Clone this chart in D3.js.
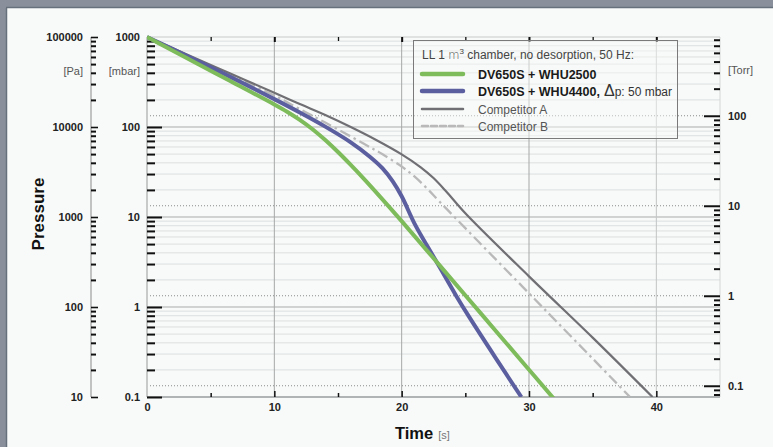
<!DOCTYPE html>
<html>
<head>
<meta charset="utf-8">
<script src="https://cdn.jsdelivr.net/npm/d3@7/dist/d3.min.js"></script>
<style>
  html, body { margin: 0; padding: 0; background: #8a909b; }
  svg { display: block; }
  text { font-family: "Liberation Sans", Arial, Helvetica, sans-serif; }
</style>
</head>
<body>
<svg id="chart" width="773" height="447"></svg>
<script>
// ---------- DATA (time in s, pressure in mbar) ----------
const greenTime = [0, 3, 6.5, 10, 11, 12, 13, 14, 15, 16, 17, 18, 20, 23, 26.4, 29.8, 32];
const greenP    = [1000, 596, 326, 178, 148, 120, 94.4, 71.6, 52.7, 37.9, 26.9, 18.8, 9.0, 2.88, 0.791, 0.217, 0.094];

const blueTime = [0, 3, 6.5, 10, 12, 14, 16, 17.5, 18.5, 19.3, 20, 21, 22, 23, 24.3, 25.3, 27.4, 29.4];
const blueP    = [1000, 631, 363, 204, 145, 101, 67.6, 46.8, 34.7, 24.9, 17.0, 8.51, 4.79, 2.75, 1.32, 0.776, 0.269, 0.1];

const compATime = [0, 3, 6.5, 10, 12, 14, 16, 18, 20, 21.5, 22.5, 23.5, 25, 30, 35, 39.7];
const compAP    = [1000, 652, 395, 240, 180, 136, 100, 71.8, 49.7, 35.7, 27.1, 19.2, 11.0, 2.19, 0.457, 0.1];

const compBTime = [0, 3, 6.5, 10, 12, 14, 17, 18.5, 20, 21, 22, 23, 26.1, 30, 32.1, 35, 37.9];
const compBP    = [1000, 638, 378, 224, 158, 112, 65.5, 49.7, 36.4, 28.2, 20.7, 14.7, 5.2, 1.42, 0.703, 0.267, 0.101];

const seriesNames = ["DV650S + WHU2500", "DV650S + WHU4400,", "Competitor A", "Competitor B"];

const xTicksMajor = [0, 10, 20, 30, 40];
const xTicksMinor = [5, 15, 25, 35];
const mbarDecades = [1000, 100, 10, 1, 0.1];
const paDecades   = [100000, 10000, 1000, 100, 10];
const torrDecades = [100, 10, 1, 0.1];

// ---------- LAYOUT ----------
const svg = d3.select("#chart");
const W = 773, H = 447;
const L = 147, R = 720, T = 37, B = 397;
const MBAR_PER_TORR = 1.33322;

const x = d3.scaleLinear().domain([0, 45]).range([L, R]);
const y = d3.scaleLog().domain([0.1, 1000]).range([B, T]);
const yPa = d3.scaleLog().domain([10, 100000]).range([B, T]);
const yTorr = d3.scaleLog().domain([0.1 / MBAR_PER_TORR, 1000 / MBAR_PER_TORR]).range([B, T]);

function minorsOf(decades, lo, hi) {
  const out = [];
  decades.forEach(d => { for (let k = 2; k <= 9; k++) { const v = d * k; if (v > lo * 0.999 && v < hi * 1.001) out.push(v); } });
  return out;
}
const mbarMinor = minorsOf([0.1, 1, 10, 100], 0.1, 1000);
const paMinor = minorsOf([10, 100, 1000, 10000], 10, 100000);
const torrMinor = minorsOf([0.01, 0.1, 1, 10, 100], 0.1 / MBAR_PER_TORR, 1000 / MBAR_PER_TORR);

// ---------- BACKGROUND ----------
svg.append("rect").attr("x", 0).attr("y", 0).attr("width", W).attr("height", H).attr("fill", "#8a909b");
svg.append("rect").attr("x", 7).attr("y", 8).attr("width", W - 7).attr("height", H - 8).attr("fill", "#f8faf9");
svg.append("line").attr("x1", 6.5).attr("x2", 6.5).attr("y1", 8).attr("y2", H).attr("stroke", "#66707d").attr("stroke-width", 1.5);
svg.append("line").attr("x1", 6).attr("x2", W).attr("y1", 7.5).attr("y2", 7.5).attr("stroke", "#66707d").attr("stroke-width", 1.5);

// ---------- GRID ----------
const grid = svg.append("g");
grid.selectAll(".hmin").data(mbarMinor).join("line")
  .attr("x1", L).attr("x2", R).attr("y1", d => y(d)).attr("y2", d => y(d))
  .attr("stroke", "#dcdfdf").attr("stroke-width", 1);
grid.selectAll(".hmaj").data([100, 10, 1]).join("line")
  .attr("x1", L).attr("x2", R).attr("y1", d => y(d)).attr("y2", d => y(d))
  .attr("stroke", "#a9abab").attr("stroke-width", 1);
grid.selectAll(".vmaj").data([10, 20, 30, 40]).join("line")
  .attr("x1", d => x(d)).attr("x2", d => x(d)).attr("y1", T).attr("y2", B)
  .attr("stroke", d => d === 40 ? "#c2c4c4" : "#a6a8a8").attr("stroke-width", 1);
grid.selectAll(".torr").data(torrDecades).join("line")
  .attr("x1", L).attr("x2", R - 16).attr("y1", d => yTorr(d)).attr("y2", d => yTorr(d))
  .attr("stroke", "#8a8a8a").attr("stroke-width", 1).attr("stroke-dasharray", "1,2");

// plot frame
svg.append("line").attr("x1", L).attr("x2", R).attr("y1", T).attr("y2", T).attr("stroke", "#c8caca").attr("stroke-width", 1);
svg.append("line").attr("x1", R).attr("x2", R).attr("y1", T).attr("y2", B).attr("stroke", "#d4d6d6").attr("stroke-width", 1);
svg.append("line").attr("x1", L).attr("x2", L).attr("y1", T).attr("y2", B).attr("stroke", "#c8caca").attr("stroke-width", 2);
svg.append("line").attr("x1", L).attr("x2", R).attr("y1", B).attr("y2", B).attr("stroke", "#9a9c9c").attr("stroke-width", 1.5);

// ---------- AXES ----------
function styleTicks(g, w) {
  g.select(".domain").remove();
  g.selectAll(".tick line").attr("stroke", "#111").attr("stroke-width", w);
}
function styleLabels(g, size, weight, color) {
  g.select(".domain").remove();
  g.selectAll(".tick line").remove();
  g.selectAll(".tick text").attr("font-size", size).attr("font-weight", weight).attr("fill", color)
    .attr("font-family", "'Liberation Sans', Arial, sans-serif");
}

// X axis (bottom)
svg.append("g").attr("transform", `translate(0,${B})`)
  .call(d3.axisTop(x).tickValues(xTicksMinor).tickSize(4).tickFormat(""))
  .call(g => styleTicks(g, 1.5));
svg.append("g").attr("transform", `translate(0,${B})`)
  .call(d3.axisTop(x).tickValues([10, 20, 30, 40]).tickSize(6).tickFormat(""))
  .call(g => styleTicks(g, 1.5));
svg.append("g").attr("transform", `translate(0,${B})`)
  .call(d3.axisBottom(x).tickValues(xTicksMajor).tickSize(0).tickPadding(6).tickFormat(d3.format("d")))
  .call(g => styleLabels(g, 11, 600, "#222"));
// X axis (top ticks)
svg.append("g").attr("transform", `translate(0,${T})`)
  .call(d3.axisBottom(x).tickValues(xTicksMinor).tickSize(4).tickFormat(""))
  .call(g => styleTicks(g, 1.3));
svg.append("g").attr("transform", `translate(0,${T})`)
  .call(d3.axisBottom(x).tickValues([10, 20, 30, 40]).tickSize(5).tickFormat(""))
  .call(g => styleTicks(g, 2));

// mbar axis
svg.append("g").attr("transform", `translate(${L},0)`)
  .call(d3.axisRight(y).tickValues(mbarMinor).tickSize(8).tickFormat(""))
  .call(g => styleTicks(g, 2));
svg.append("g").attr("transform", `translate(${L},0)`)
  .call(d3.axisRight(y).tickValues([100, 10, 1, 0.1]).tickSize(15).tickFormat(""))
  .call(g => styleTicks(g, 2));
svg.append("g").attr("transform", `translate(${L},0)`)
  .call(d3.axisLeft(y).tickValues(mbarDecades).tickSize(0).tickPadding(7).tickFormat(d => d < 1 ? "0.1" : d3.format("d")(d)))
  .call(g => styleLabels(g, 11, 600, "#222"));

// Pa axis
const PAX = 91;
svg.append("line").attr("x1", PAX).attr("x2", PAX).attr("y1", T).attr("y2", B).attr("stroke", "#8a8a8a").attr("stroke-width", 1);
svg.append("g").attr("transform", `translate(${PAX},0)`)
  .call(d3.axisRight(yPa).tickValues(paMinor).tickSize(5).tickFormat(""))
  .call(g => styleTicks(g, 2));
svg.append("g").attr("transform", `translate(${PAX},0)`)
  .call(d3.axisRight(yPa).tickValues(paDecades).tickSize(7).tickFormat(""))
  .call(g => styleTicks(g, 1.6));
svg.append("g").attr("transform", `translate(${PAX},0)`)
  .call(d3.axisLeft(yPa).tickValues(paDecades).tickSize(0).tickPadding(8).tickFormat(d3.format("d")))
  .call(g => styleLabels(g, 11, 600, "#222"));

// Torr axis
svg.append("g").attr("transform", `translate(${R},0)`)
  .call(d3.axisLeft(yTorr).tickValues(torrMinor).tickSize(6).tickFormat(""))
  .call(g => styleTicks(g, 2));
svg.append("g").attr("transform", `translate(${R},0)`)
  .call(d3.axisLeft(yTorr).tickValues(torrDecades).tickSize(16).tickFormat(""))
  .call(g => styleTicks(g, 2));
svg.append("g").attr("transform", `translate(${R},0)`)
  .call(d3.axisRight(yTorr).tickValues(torrDecades).tickSize(0).tickPadding(8).tickFormat(d => d < 1 ? "0.1" : d3.format("d")(d)))
  .call(g => styleLabels(g, 11, 600, "#222"));

// unit labels
const unitY = 75;
svg.append("text").attr("x", 83).attr("y", unitY).attr("text-anchor", "end").attr("font-size", 11).attr("fill", "#555").text("[Pa]");
svg.append("text").attr("x", 140).attr("y", unitY).attr("text-anchor", "end").attr("font-size", 11).attr("fill", "#555").text("[mbar]");
svg.append("text").attr("x", 728).attr("y", unitY - 1).attr("text-anchor", "start").attr("font-size", 11).attr("fill", "#555").text("[Torr]");

// axis titles
svg.append("text").attr("transform", "translate(44,214) rotate(-90)").attr("text-anchor", "middle")
  .attr("font-size", 17).attr("font-weight", "bold").attr("fill", "#111").text("Pressure");
const tt = svg.append("text").attr("x", 395).attr("y", 439).attr("font-size", 16.5).attr("font-weight", "bold").attr("fill", "#111");
tt.append("tspan").text("Time");
tt.append("tspan").attr("font-size", 11).attr("font-weight", "normal").attr("fill", "#777").attr("dx", 5).text("[s]");

// ---------- CURVES ----------
const line = d3.line().x(d => x(d[0])).y(d => y(d[1])).curve(d3.curveCatmullRom.alpha(0.5));
const zip = (a, b) => a.map((v, i) => [v, b[i]]);
svg.append("clipPath").attr("id", "clip").append("rect")
  .attr("x", L).attr("y", T - 2).attr("width", R - L).attr("height", B - T + 2);
const curves = svg.append("g").attr("clip-path", "url(#clip)");

curves.append("path").datum(zip(compBTime, compBP)).attr("d", line)
  .attr("fill", "none").attr("stroke", "#b9b9b9").attr("stroke-width", 2.3)
  .attr("stroke-dasharray", "11,4,2.5,4");
curves.append("path").datum(zip(compATime, compAP)).attr("d", line)
  .attr("fill", "none").attr("stroke", "#707074").attr("stroke-width", 2.2);
curves.append("path").datum(zip(blueTime, blueP)).attr("d", line)
  .attr("fill", "none").attr("stroke", "#5c5f9f").attr("stroke-width", 4);
curves.append("path").datum(zip(greenTime, greenP)).attr("d", line)
  .attr("fill", "none").attr("stroke", "#7dbb5b").attr("stroke-width", 4);

// ---------- LEGEND ----------
const lg = svg.append("g");
lg.append("rect").attr("x", 413.5).attr("y", 40.5).attr("width", 264).attr("height", 98)
  .attr("fill", "rgba(248,250,249,0.45)").attr("stroke", "#7a7a7a").attr("stroke-width", 1);
const t1 = lg.append("text").attr("x", 422).attr("y", 59).attr("font-size", 12).attr("fill", "#444");
t1.append("tspan").text("LL 1 ");
t1.append("tspan").attr("font-family", "'DejaVu Sans', sans-serif").attr("font-size", 11.5).attr("font-weight", 300).text("m");
t1.append("tspan").attr("font-size", 8).attr("dy", -5).text("3");
t1.append("tspan").attr("dy", 5).text(" chamber, no desorption, 50 Hz:");

const legendItems = [
  { name: seriesNames[0], color: "#7dbb5b", w: 4.5, dash: null, y: 74, bold: true },
  { name: seriesNames[1], color: "#5c5f9f", w: 4.5, dash: null, y: 91, bold: true },
  { name: seriesNames[2], color: "#707074", w: 2.5, dash: null, y: 109, bold: false },
  { name: seriesNames[3], color: "#b9b9b9", w: 2.5, dash: "6,3", y: 126, bold: false }
];
legendItems.forEach((it, i) => {
  lg.append("line").attr("x1", 422).attr("x2", 463).attr("y1", it.y).attr("y2", it.y)
    .attr("stroke", it.color).attr("stroke-width", it.w).attr("stroke-linecap", "round")
    .attr("stroke-dasharray", it.dash);
  const tx = lg.append("text").attr("x", 478).attr("y", it.y + 4.5)
    .attr("font-size", it.bold ? 12.5 : 12).attr("font-weight", it.bold ? "bold" : "normal")
    .attr("fill", it.bold ? "#1a1a1a" : "#555");
  tx.append("tspan").text(it.name);
  if (i === 1) {
    tx.append("tspan").attr("font-weight", "normal").attr("font-size", 16).attr("fill", "#333").attr("dx", 4).text("Δ");
    tx.append("tspan").attr("font-weight", "normal").attr("font-size", 12).attr("fill", "#333").text("p: 50 mbar");
  }
});
</script>
</body>
</html>
